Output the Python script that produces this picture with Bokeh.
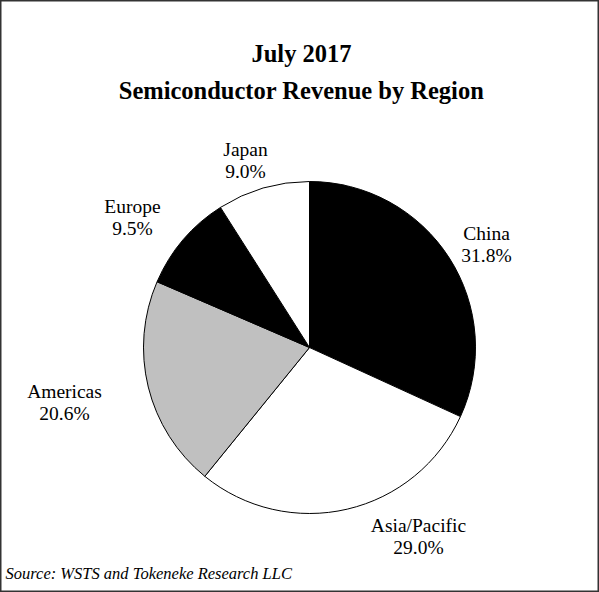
import math
from bokeh.plotting import figure
from bokeh.models import Range1d, ColumnDataSource
from bokeh.core.properties import value
from bokeh.embed import file_html
from bokeh.resources import INLINE

# ---- data ----
regions = ["China", "Asia/Pacific", "Americas", "Europe", "Japan"]
shares = [31.8, 29.0, 20.6, 9.5, 9.0]
colors = ["#000000", "#ffffff", "#c0c0c0", "#000000", "#ffffff"]
title_lines = ["July 2017", "Semiconductor Revenue by Region"]
source_note = "Source: WSTS and Tokeneke Research LLC"

# ---- layout (page pixel coords of reference) ----
W, H = 599, 592
def fx(x): return x
def fy(y): return H - y

cx, cy, R = 309, 347, 166
# label anchors (page coords, center of two-line block)
label_pos = [(486, 244), (418, 536), (64, 402), (132, 217), (245, 160)]

p = figure(width=W, height=H, output_backend="svg", toolbar_location=None,
           x_range=Range1d(0, W), y_range=Range1d(0, H), min_border=0)
p.axis.visible = False
p.grid.visible = False
p.outline_line_color = "#333333"
p.outline_line_width = 2
p.background_fill_color = "white"
p.border_fill_color = "white"

total = sum(shares)
starts, ends = [], []
cum = 0.0
for s in shares:
    a0 = math.pi / 2 - 2 * math.pi * cum / total
    cum += s
    a1 = math.pi / 2 - 2 * math.pi * cum / total
    starts.append(a0)
    ends.append(a1)

src = ColumnDataSource(dict(x=[fx(cx)] * len(shares), y=[fy(cy)] * len(shares),
                            start=starts, end=ends, color=colors))
p.wedge(x="x", y="y", radius=R, start_angle="start", end_angle="end",
        direction="clock", fill_color="color", line_color="black", line_width=1,
        source=src)

# labels
lx, ly1, ly2, t1, t2 = [], [], [], [], []
for (px, py), name, s in zip(label_pos, regions, shares):
    lx.append(fx(px))
    ly1.append(fy(py - 11))
    ly2.append(fy(py + 11))
    t1.append(name)
    t2.append(f"{s:.1f}%")
p.text(x=lx + lx, y=ly1 + ly2, text=t1 + t2, text_align="center",
       text_baseline="middle", text_font=value("Liberation Serif"),
       text_font_size="19.5px", text_color="black")

# title
p.text(x=[fx(301), fx(301)], y=[fy(53), fy(90)], text=title_lines,
       text_align="center", text_baseline="middle",
       text_font=value("Liberation Serif"), text_font_style="bold",
       text_font_size="24.5px", text_color="black")

# source
p.text(x=[fx(5)], y=[fy(573)], text=[source_note], text_align="left",
       text_baseline="middle", text_font=value("Liberation Serif"),
       text_font_style="italic", text_font_size="16.5px", text_color="black")

open("out.html", "w").write(file_html(p, INLINE))
